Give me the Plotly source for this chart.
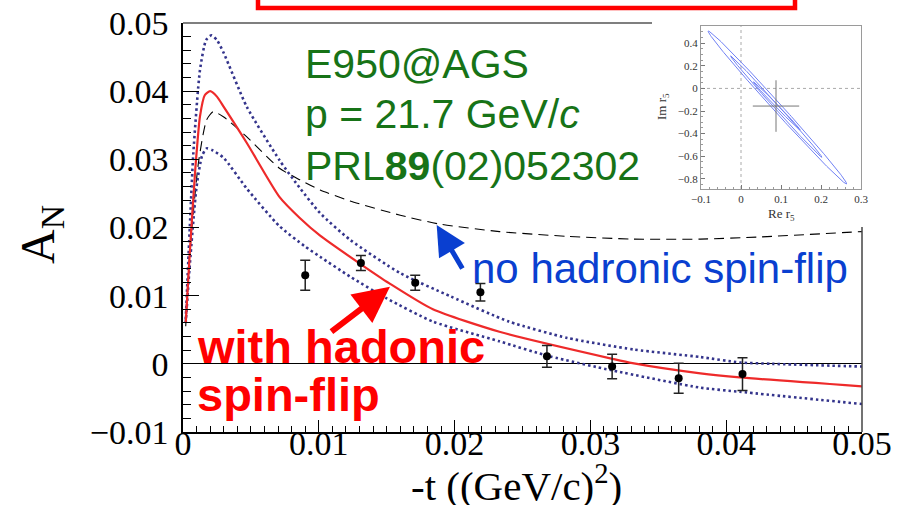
import numpy as np
import plotly.graph_objects as go

# ---------------- main-plot data ----------------
t_data = [0.0090, 0.0131, 0.0171, 0.0219, 0.0268, 0.0316, 0.0365, 0.0412]
an_data = [0.0130, 0.0148, 0.0119, 0.0105, 0.0011, -0.0004, -0.0021, -0.0015]
an_err = [0.0022, 0.0011, 0.0011, 0.0013, 0.0016, 0.0018, 0.0022, 0.0024]

fit_t = [0.0002, 0.0005, 0.0009, 0.00125, 0.0016, 0.0020, 0.0025, 0.0030, 0.0047,
         0.0071, 0.0086, 0.0101, 0.0131, 0.0152, 0.0184, 0.0233, 0.0317, 0.0331,
         0.0381, 0.0410, 0.0500]
fit_an = [0.0060, 0.0163, 0.0284, 0.0363, 0.0394, 0.0400, 0.0392, 0.0377, 0.0324,
          0.0245, 0.0214, 0.0188, 0.0146, 0.0118, 0.0080, 0.0047, 0.0007, 0.0001,
          -0.0014, -0.0020, -0.0033]

up_t = [0.0002, 0.0005, 0.00076, 0.00125, 0.0017, 0.0021, 0.0025, 0.0030, 0.0047,
        0.0071, 0.0086, 0.0101, 0.0123, 0.0160, 0.0197, 0.0240, 0.0283, 0.0332,
        0.0381, 0.0410, 0.0434, 0.0500]
up_an = [0.0065, 0.0200, 0.0309, 0.0431, 0.0475, 0.0482, 0.0475, 0.0456, 0.0377,
         0.0299, 0.0258, 0.0221, 0.0182, 0.0133, 0.0099, 0.0062, 0.0038, 0.0021,
         0.0010, 0.0002, 0.0000, -0.0004]

lo_t = [0.0002, 0.0005, 0.0010, 0.0014, 0.00174, 0.0022, 0.0030, 0.0047, 0.0071,
        0.0090, 0.0101, 0.0123, 0.0150, 0.0184, 0.0233, 0.0270, 0.0317, 0.0381,
        0.0410, 0.0500]
lo_an = [0.0060, 0.0145, 0.0260, 0.0305, 0.0316, 0.0313, 0.0302, 0.0257, 0.0202,
         0.0172, 0.0157, 0.0128, 0.0096, 0.0062, 0.0033, 0.0011, -0.0010, -0.0035,
         -0.0041, -0.0059]

nohf_t = [0.0002, 0.0005, 0.00113, 0.00174, 0.00223, 0.0030, 0.0047, 0.0071, 0.0086,
          0.0101, 0.0123, 0.0160, 0.0189, 0.0233, 0.0283, 0.0331, 0.0381, 0.0423, 0.0500]
nohf_an = [0.0055, 0.0162, 0.0294, 0.0358, 0.0370, 0.0362, 0.0333, 0.0287, 0.0270,
           0.0255, 0.0239, 0.0218, 0.0205, 0.0194, 0.0187, 0.0183, 0.0183, 0.0186, 0.0194]

# ---------------- inset data (r5 confidence contours) ----------------
ell_tip1_re = [-0.082, -0.026, 0.031]
ell_tip1_im = [0.508, 0.288, 0.058]
ell_tip2_re = [0.264, 0.202, 0.148]
ell_tip2_im = [-0.845, -0.609, -0.368]
ell_minor_ratio = [0.042, 0.032, 0.040]

r5_re, r5_re_err = 0.0875, 0.058
r5_im, r5_im_err = -0.156, 0.228

# ---------------- geometry helpers (layout only) ----------------
W, H = 912, 505
L, R, T, B = 183, 862, 23, 432


def px(xp):
    return (xp - L) / (R - L)


def py(yp):
    return (B - yp) / (B - T)


fig = go.Figure()

fig.add_trace(go.Scatter(x=nohf_t, y=nohf_an, mode="lines",
                         line=dict(color="black", width=1.1, dash="10px,6px", shape="spline", smoothing=0.6),
                         showlegend=False))
fig.add_trace(go.Scatter(x=up_t, y=up_an, mode="lines",
                         line=dict(color="#34348c", width=2.6, dash="2.5px,3px", shape="spline", smoothing=0.6),
                         showlegend=False))
fig.add_trace(go.Scatter(x=lo_t, y=lo_an, mode="lines",
                         line=dict(color="#34348c", width=2.6, dash="2.5px,3px", shape="spline", smoothing=0.6),
                         showlegend=False))
fig.add_trace(go.Scatter(x=fit_t, y=fit_an, mode="lines",
                         line=dict(color="#ee2a2a", width=2.2, shape="spline", smoothing=0.6),
                         showlegend=False))
fig.add_trace(go.Scatter(x=t_data, y=an_data, mode="markers",
                         marker=dict(color="black", size=8),
                         error_y=dict(type="data", array=an_err, color="#222", thickness=1.5, width=5),
                         showlegend=False))

# inset ellipses (drawn from tip points and minor/major ratio)
ix_scale = 160 / 0.4
iy_scale = 163.3 / 1.445
theta = np.linspace(0, 2 * np.pi, 241)
for a1, b1, a2, b2, mr in zip(ell_tip1_re, ell_tip1_im, ell_tip2_re, ell_tip2_im, ell_minor_ratio):
    cx, cy = (a1 + a2) / 2, (b1 + b2) / 2
    dx, dy = (a2 - a1) / 2 * ix_scale, (b2 - b1) / 2 * iy_scale
    half = np.hypot(dx, dy)
    ux, uy = dx / half, dy / half
    minor = mr * half
    ex = np.cos(theta) * half * ux - np.sin(theta) * minor * uy
    ey = np.cos(theta) * half * uy + np.sin(theta) * minor * ux
    fig.add_trace(go.Scatter(x=cx + ex / ix_scale, y=cy + ey / iy_scale, mode="lines",
                             line=dict(color="#7080f4", width=1), xaxis="x2", yaxis="y2",
                             showlegend=False))

fig.add_trace(go.Scatter(x=[r5_re], y=[r5_im], mode="markers", marker=dict(size=1, color="#777"),
                         error_x=dict(type="data", array=[r5_re_err], color="#777", thickness=1, width=0),
                         error_y=dict(type="data", array=[r5_im_err], color="#777", thickness=1, width=0),
                         xaxis="x2", yaxis="y2", showlegend=False))

serif = "Liberation Serif, Times New Roman, serif"
sans = "Liberation Sans, Arial, sans-serif"

fig.update_layout(
    width=W, height=H,
    margin=dict(l=L, r=W - R, t=T, b=H - B, autoexpand=False),
    paper_bgcolor="white", plot_bgcolor="white",
    xaxis=dict(range=[0, 0.05], dtick=0.01, showgrid=False, zeroline=False, automargin=False,
               showline=True, linecolor="black", linewidth=1.5,
               ticks="inside", ticklen=12, tickwidth=1, tickcolor="black",
               minor=dict(dtick=0.001, ticks="inside", ticklen=6, tickcolor="black"),
               tickfont=dict(family=serif, size=34, color="black"),
               ticklabelstandoff=-20,
               domain=[0, 1]),
    yaxis=dict(range=[-0.01, 0.05], dtick=0.01, showgrid=False, automargin=False,
               zeroline=True, zerolinecolor="black", zerolinewidth=1,
               showline=True, linecolor="black", linewidth=1.5,
               ticks="inside", ticklen=16, tickwidth=1, tickcolor="black",
               minor=dict(dtick=0.002, ticks="inside", ticklen=8, tickcolor="black"),
               tickfont=dict(family=serif, size=34, color="black"),
               ticklabelstandoff=6,
               domain=[0, 1]),
    xaxis2=dict(range=[-0.1, 0.3], dtick=0.1, anchor="y2", domain=[px(701), px(861)],
                showgrid=False, zeroline=False, showline=True, mirror=True, automargin=False,
                linecolor="#9a9a9a", linewidth=1,
                ticks="inside", ticklen=4, tickcolor="#777",
                minor=dict(dtick=0.02, ticks="inside", ticklen=2, tickcolor="#999"),
                tickfont=dict(family=serif, size=11, color="#333")),
    yaxis2=dict(range=[-0.89, 0.555], dtick=0.2, anchor="x2", domain=[py(189), py(25.7)],
                showgrid=False, zeroline=False, showline=True, mirror=True, automargin=False,
                linecolor="#9a9a9a", linewidth=1,
                ticks="inside", ticklen=4, tickcolor="#777",
                minor=dict(dtick=0.05, ticks="inside", ticklen=2, tickcolor="#999"),
                tickfont=dict(family=serif, size=11, color="#333")),
)

shapes = [
    # partial frame of main plot (top/right hidden behind inset)
    dict(type="line", xref="paper", yref="paper", x0=0, x1=px(652), y0=1, y1=1,
         line=dict(color="black", width=1.2)),
    dict(type="line", xref="paper", yref="paper", x0=1, x1=1, y0=0, y1=py(227),
         line=dict(color="#444", width=1.5)),
    # inset zero lines
    dict(type="line", xref="x2", yref="y2", x0=0, x1=0, y0=-0.89, y1=0.555,
         line=dict(color="#aaa", width=1, dash="dot"), layer="below"),
    dict(type="line", xref="x2", yref="y2", x0=-0.1, x1=0.3, y0=0, y1=0,
         line=dict(color="#aaa", width=1, dash="dot"), layer="below"),
    # red title box cut off at the top
    dict(type="rect", xref="paper", yref="paper", x0=px(258), x1=px(795), y0=py(8), y1=py(-30),
         line=dict(color="red", width=4.5), fillcolor="rgba(0,0,0,0)"),
]
fig.update_layout(shapes=shapes)

green = "#177317"
ann = [
    dict(text="E950@AGS", x=px(303), y=py(64), xanchor="left", yanchor="middle",
         font=dict(family=sans, size=41, color=green)),
    dict(text="p = 21.7 GeV/<i>c</i>", x=px(303), y=py(114), xanchor="left", yanchor="middle",
         font=dict(family=sans, size=41, color=green)),
    dict(text="PRL<b>89</b>(02)052302", x=px(303), y=py(166), xanchor="left", yanchor="middle",
         font=dict(family=sans, size=41, color=green)),
    dict(text="no hadronic spin-flip", x=px(470), y=py(268), xanchor="left", yanchor="middle",
         font=dict(family=sans, size=42, color="#0a3fd0")),
    dict(text="<b>with hadonic</b>", x=px(195), y=py(346), xanchor="left", yanchor="middle",
         font=dict(family=sans, size=47, color="red")),
    dict(text="<b>spin-flip</b>", x=px(195), y=py(394), xanchor="left", yanchor="middle",
         font=dict(family=sans, size=47, color="red")),
    dict(text="A<sub>N</sub>", x=px(41), y=py(235), xanchor="center", yanchor="middle",
         textangle=-90, font=dict(family=serif, size=48, color="black")),
    dict(text="-t ((GeV/c)<sup>2</sup>)", x=px(516), y=py(511), xanchor="center", yanchor="bottom",
         font=dict(family=serif, size=41, color="black")),
    dict(text="Im r<sub>5</sub>", x=px(663), y=py(107), xanchor="center", yanchor="middle",
         textangle=-90, font=dict(family=serif, size=13, color="#333")),
    dict(text="Re r<sub>5</sub>", x=px(781), y=py(214), xanchor="center", yanchor="middle",
         font=dict(family=serif, size=13, color="#333")),
    # arrows
    dict(text="", x=0.01524, y=0.01129, ax=0.01082, ay=0.00455, xref="x", yref="y",
         axref="x", ayref="y", showarrow=True, arrowhead=2, arrowsize=1.2, arrowwidth=6,
         arrowcolor="red"),
    dict(text="", x=0.01868, y=0.02038, ax=0.02064, ay=0.01378, xref="x", yref="y",
         axref="x", ayref="y", showarrow=True, arrowhead=2, arrowsize=1.2, arrowwidth=5,
         arrowcolor="#0a3fd0"),
]
for a in ann:
    a.setdefault("xref", "paper")
    a.setdefault("yref", "paper")
    a.setdefault("showarrow", False)
fig.update_layout(annotations=ann)

fig.write_html("out.html")
